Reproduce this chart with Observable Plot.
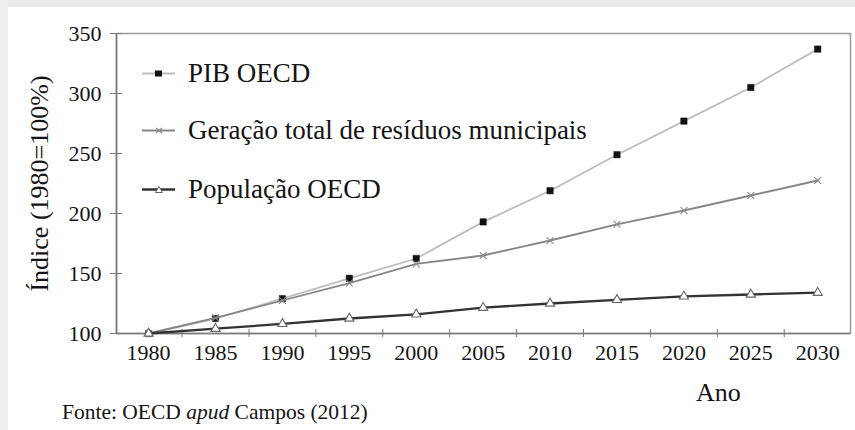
<!DOCTYPE html>
<html>
<head>
<meta charset="utf-8">
<script src="https://cdn.jsdelivr.net/npm/d3@7"></script>
<script src="https://cdn.jsdelivr.net/npm/@observablehq/plot@0.6"></script>
<style>
  html, body { margin: 0; padding: 0; background: #ffffff; }
  #wrap { position: relative; width: 855px; height: 430px; overflow: hidden; background: #fff;
          font-family: "Liberation Serif", "Times New Roman", serif; color: #141414; }
  #topband { position: absolute; left: 0; top: 0; width: 855px; height: 7px; background: #ebebeb; }
  #leftband { position: absolute; left: 0; top: 0; width: 8px; height: 430px; background: #efefef; }
  #chart { position: absolute; left: 0; top: 0; }
  .legend { position: absolute; left: 141px; font-size: 27px; line-height: 1; white-space: nowrap; display: flex; align-items: center; }
  .legend svg { margin-right: 12px; }
  #ano { position: absolute; left: 696px; top: 378px; font-size: 26px; }
  #fonte { position: absolute; left: 62px; top: 400px; font-size: 21.5px; }
</style>
</head>
<body>
<div id="wrap">
  <div id="topband"></div>
  <div id="leftband"></div>
  <div id="chart"></div>
  <div id="legend"></div>
  <div id="ano">Ano</div>
  <div id="fonte">Fonte: OECD <i>apud</i> Campos (2012)</div>
</div>
<script>
// ---- data ----
const years = [1980, 1985, 1990, 1995, 2000, 2005, 2010, 2015, 2020, 2025, 2030];
const pib = [100, 112.5, 129, 146, 162.5, 193, 219, 249, 277, 305, 337];
const residuos = [100, 113, 127.5, 142, 158, 165, 177.5, 191, 202.5, 215, 227.5];
const populacao = [100, 104, 108, 112.5, 116, 121.5, 125, 128, 131, 132.5, 134];
const yTicks = [100, 150, 200, 250, 300, 350];
const seriesNames = ["PIB OECD", "Geração total de resíduos municipais", "População OECD"];

const rows = (vals) => years.map((y, i) => ({year: y, value: vals[i]}));
const midTicks = years.slice(0, -1).map((y, i) => (y + years[i + 1]) / 2);

const axisColor = "#7a7a7a";
const font = "Liberation Serif";

const chart = Plot.plot({
  width: 855,
  height: 430,
  marginLeft: 116,
  marginRight: 5,
  marginTop: 33,
  marginBottom: 97,
  style: {fontFamily: font, fontSize: "22px", color: "#141414", background: "transparent"},
  x: {domain: [1977.6, 2032.45]},
  y: {domain: [100, 350]},
  marks: [
    Plot.frame({stroke: "#9a9a9a", strokeWidth: 1.5}),
    Plot.ruleX([1977.6], {stroke: axisColor, strokeWidth: 1.6}),
    Plot.ruleY([100], {stroke: axisColor, strokeWidth: 1.6}),
    // y axis: labels with outward ticks, plus inward ticks
    Plot.axisY(yTicks, {tickSize: 6, tickPadding: 9, stroke: axisColor, fontSize: 22,
      label: "Índice (1980=100%)", labelAnchor: "center", labelArrow: "none", labelOffset: 87}),
    Plot.axisY(yTicks, {tickSize: -6, text: null, label: null, stroke: axisColor}),
    // x axis: labels at years, tick marks between categories
    Plot.axisX(years, {tickSize: 0, tickPadding: 11, tickFormat: d => String(d), fontSize: 22, label: null}),
    Plot.axisX(midTicks, {tickSize: 4, text: null, label: null, stroke: axisColor}),
    Plot.axisX(midTicks, {tickSize: -4, text: null, label: null, stroke: axisColor}),
    // PIB
    Plot.line(rows(pib), {x: "year", y: "value", stroke: "#bdbdbd", strokeWidth: 1.8}),
    Plot.dot(rows(pib), {x: "year", y: "value", symbol: "square", r: 3.6, fill: "#111", stroke: "#111", strokeWidth: 0.5}),
    // Residuos
    Plot.line(rows(residuos), {x: "year", y: "value", stroke: "#868686", strokeWidth: 1.8}),
    Plot.dot(rows(residuos), {x: "year", y: "value", symbol: "times", r: 3.2, stroke: "#8a8a8a", strokeWidth: 1.1}),
    // Populacao
    Plot.line(rows(populacao), {x: "year", y: "value", stroke: "#333", strokeWidth: 2.3}),
    Plot.dot(rows(populacao), {x: "year", y: "value", symbol: "triangle", r: 3.4, fill: "#fff", stroke: "#666", strokeWidth: 1.1})
  ]
});
document.getElementById("chart").appendChild(chart);
// style the y-axis label
chart.querySelectorAll("text").forEach(t => {
  if (t.textContent === "Índice (1980=100%)") { t.setAttribute("font-size", "26"); }
});

// ---- legend ----
const sw = [
  {line: "#bdbdbd", lw: 1.8, marker: "sq"},
  {line: "#868686", lw: 1.8, marker: "x"},
  {line: "#333", lw: 2.3, marker: "tri"}
];
const tops = [60, 117, 176];
const leg = document.getElementById("legend");
seriesNames.forEach((name, i) => {
  const d = document.createElement("div");
  d.className = "legend";
  d.style.top = tops[i] + "px";
  const s = sw[i];
  let m = "";
  if (s.marker === "sq") m = `<rect x="14" y="3.5" width="7" height="6" fill="#111"/>`;
  if (s.marker === "x") m = `<path d="M15 4 L21 9 M21 4 L15 9" stroke="#8a8a8a" stroke-width="1.1"/>`;
  if (s.marker === "tri") m = `<path d="M18 3.5 L21.5 9.5 L14.5 9.5 Z" fill="#fff" stroke="#666" stroke-width="1"/>`;
  d.innerHTML = `<svg width="35" height="13"><line x1="1" x2="34" y1="6.5" y2="6.5" stroke="${s.line}" stroke-width="${s.lw}"/>${m}</svg><span>${name}</span>`;
  leg.appendChild(d);
});
</script>
</body>
</html>
